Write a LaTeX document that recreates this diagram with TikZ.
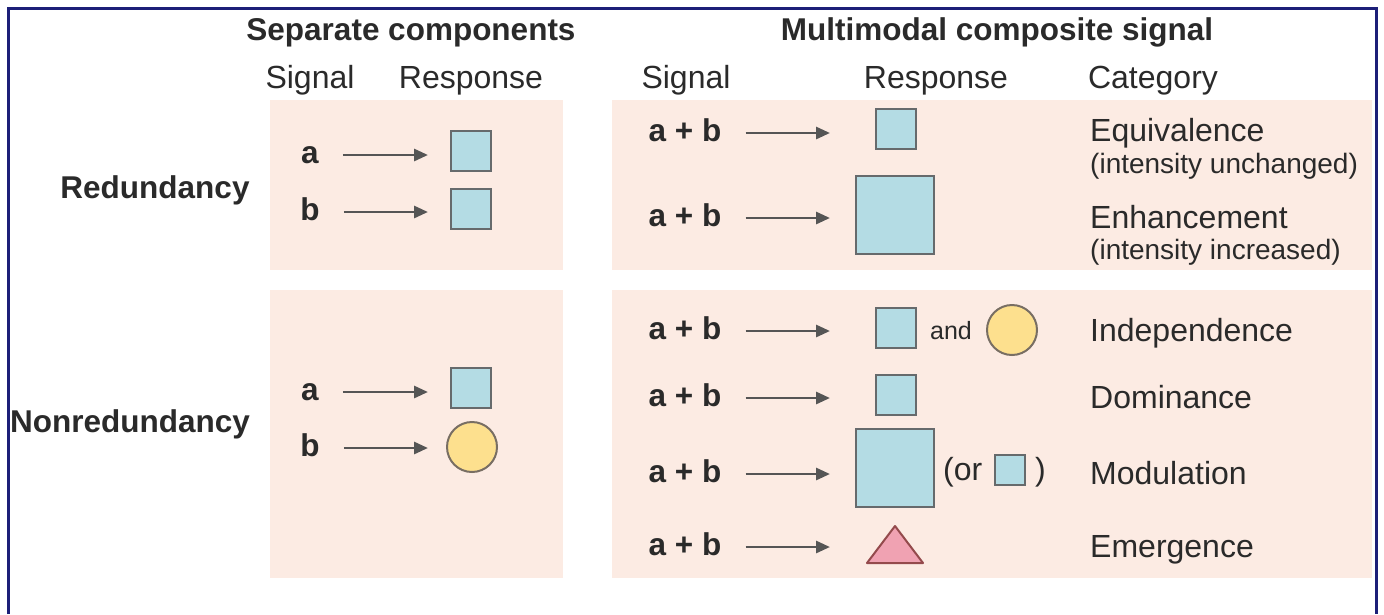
\documentclass[tikz,border=0pt]{standalone}
\usepackage{fontspec}
\setmainfont{Liberation Sans}
\usepackage{amsmath}
\usetikzlibrary{arrows.meta,positioning}
\definecolor{boxpink}{HTML}{FCEBE3}
\definecolor{sqblue}{HTML}{B4DCE4}
\definecolor{circyel}{HTML}{FDE08E}
\definecolor{tripink}{HTML}{F0A2B2}
\definecolor{framenavy}{HTML}{1C1F78}
\definecolor{inkgray}{HTML}{2A2A2A}
\definecolor{edgegray}{HTML}{666A6C}

\begin{document}
\fontsize{32}{36}\selectfont
\begin{tikzpicture}[x=1pt,y=-1pt,
        txt/.style={font=\fontsize{32}{36}\selectfont, text=inkgray, inner sep=0pt},
        lbl/.style={font=\fontsize{31.5}{36}\selectfont\bfseries, text=inkgray, inner sep=0pt},
        subtxt/.style={font=\fontsize{28}{32}\selectfont, text=inkgray, inner sep=0pt},
        sq/.style={draw=edgegray, fill=sqblue, line width=2pt, inner sep=0pt, minimum size=#1},
        sq/.default=40pt,
        circ/.style={circle, draw=edgegray!80!brown, fill=circyel, line width=2pt, inner sep=0pt, minimum size=50pt},
        sigarr/.style={draw=inkgray!80, line width=2.8pt, -{Triangle[length=14pt,width=12pt]}, shorten <=24pt}]
            \newcommand{\sarr}[2]{
                \draw[sigarr] (#1.mid east) -- (#1.mid east -| #2)
            }
            \useasboundingbox (0,0) rectangle (1384,614);
            \fill[boxpink] (270,100) rectangle (563,270);
            \fill[boxpink] (270,290) rectangle (563,578);
            \fill[boxpink] (612,100) rectangle (1372,270);
            \fill[boxpink] (612,290) rectangle (1372,578);
            \draw[framenavy, line width=3pt] (8,614) -- (8,8) -- (1376,8) -- (1376,614);

            \coordinate (ltip) at (428,0);
            \coordinate (rtip) at (830,0);

            \node[lbl, anchor=base] (sephd) at (411,40) {Separate components};
            \node[lbl, anchor=base] (multhd) at (997,40) {Multimodal composite signal};
            \node[txt, anchor=base] (lsig) at (310,88) {Signal};
            \node[txt, anchor=base] (lresp) at (471,88) {Response};
            \node[txt, anchor=base] (rsig) at (686,88) {Signal};
            \node[txt, anchor=base] (rresp) at (936,88) {Response};
            \node[txt, anchor=base] (rcat) at (1153,88) {Category};

            \node[lbl, anchor=base] (redl) at (155,198) {Redundancy};
            \node[lbl, anchor=base] (nredl) at (130,432) {Nonredundancy};

            \node[lbl, anchor=mid] (ra) at (310,155) {a};
            \node[lbl, anchor=mid] (rb) at (310,212) {b};
            \node[lbl, anchor=mid] (na) at (310,392) {a};
            \node[lbl, anchor=mid] (nb) at (310,448) {b};
            \node[sq] (raq) at (471,151) {};
            \node[sq] (rbq) at (471,209) {};
            \node[sq] (naq) at (471,388) {};
            \node[circ] (nbc) at (472,447) {};
            \sarr{ra}{ltip};
            \sarr{rb}{ltip};
            \sarr{na}{ltip};
            \sarr{nb}{ltip};

            \node[lbl, anchor=mid] (ab1) at (685,133) {a + b};
            \node[lbl, anchor=mid] (ab2) at (685,218) {a + b};
            \node[lbl, anchor=mid] (ab3) at (685,331) {a + b};
            \node[lbl, anchor=mid] (ab4) at (685,398) {a + b};
            \node[lbl, anchor=mid] (ab5) at (685,474) {a + b};
            \node[lbl, anchor=mid] (ab6) at (685,547) {a + b};
            \foreach \r in {1,...,6}
                \sarr{ab\r}{rtip};

            \node[sq] (eqq) at (896,129) {};
            \node[sq=78pt] (enq) at (895,215) {};
            \node[sq] (inq) at (896,328) {};
            \node[txt, font=\fontsize{25}{28}\selectfont, anchor=mid] (andt) at (951,331) {and};
            \node[circ] (inc) at (1012,330) {};
            \node[sq] (doq) at (896,395) {};
            \node[sq=78pt] (moq) at (895,468) {};
            \node[txt, anchor=mid west] (ort) at (943,472) {(or};
            \node[sq=30pt] (mosq) at (1010,470) {};
            \node[txt, anchor=mid west] (orc) at (1035,472) {)};
            \filldraw[fill=tripink, draw=edgegray!70!red, line width=2pt, line join=round] (895,526) -- (867,563) -- (923,563) -- cycle;

            \node[txt, anchor=mid west] (eqv) at (1090,133) {Equivalence};
            \node[subtxt, anchor=mid west] (eqvs) at (1090,165) {(intensity unchanged)};
            \node[txt, anchor=mid west] (enh) at (1090,220) {Enhancement};
            \node[subtxt, anchor=mid west] (enhs) at (1090,251) {(intensity increased)};
            \node[txt, anchor=mid west] (ind) at (1090,333) {Independence};
            \node[txt, anchor=mid west] (dom) at (1090,400) {Dominance};
            \node[txt, anchor=mid west] (mod) at (1090,476) {Modulation};
            \node[txt, anchor=mid west] (emg) at (1090,549) {Emergence};
        \end{tikzpicture}
\end{document}
